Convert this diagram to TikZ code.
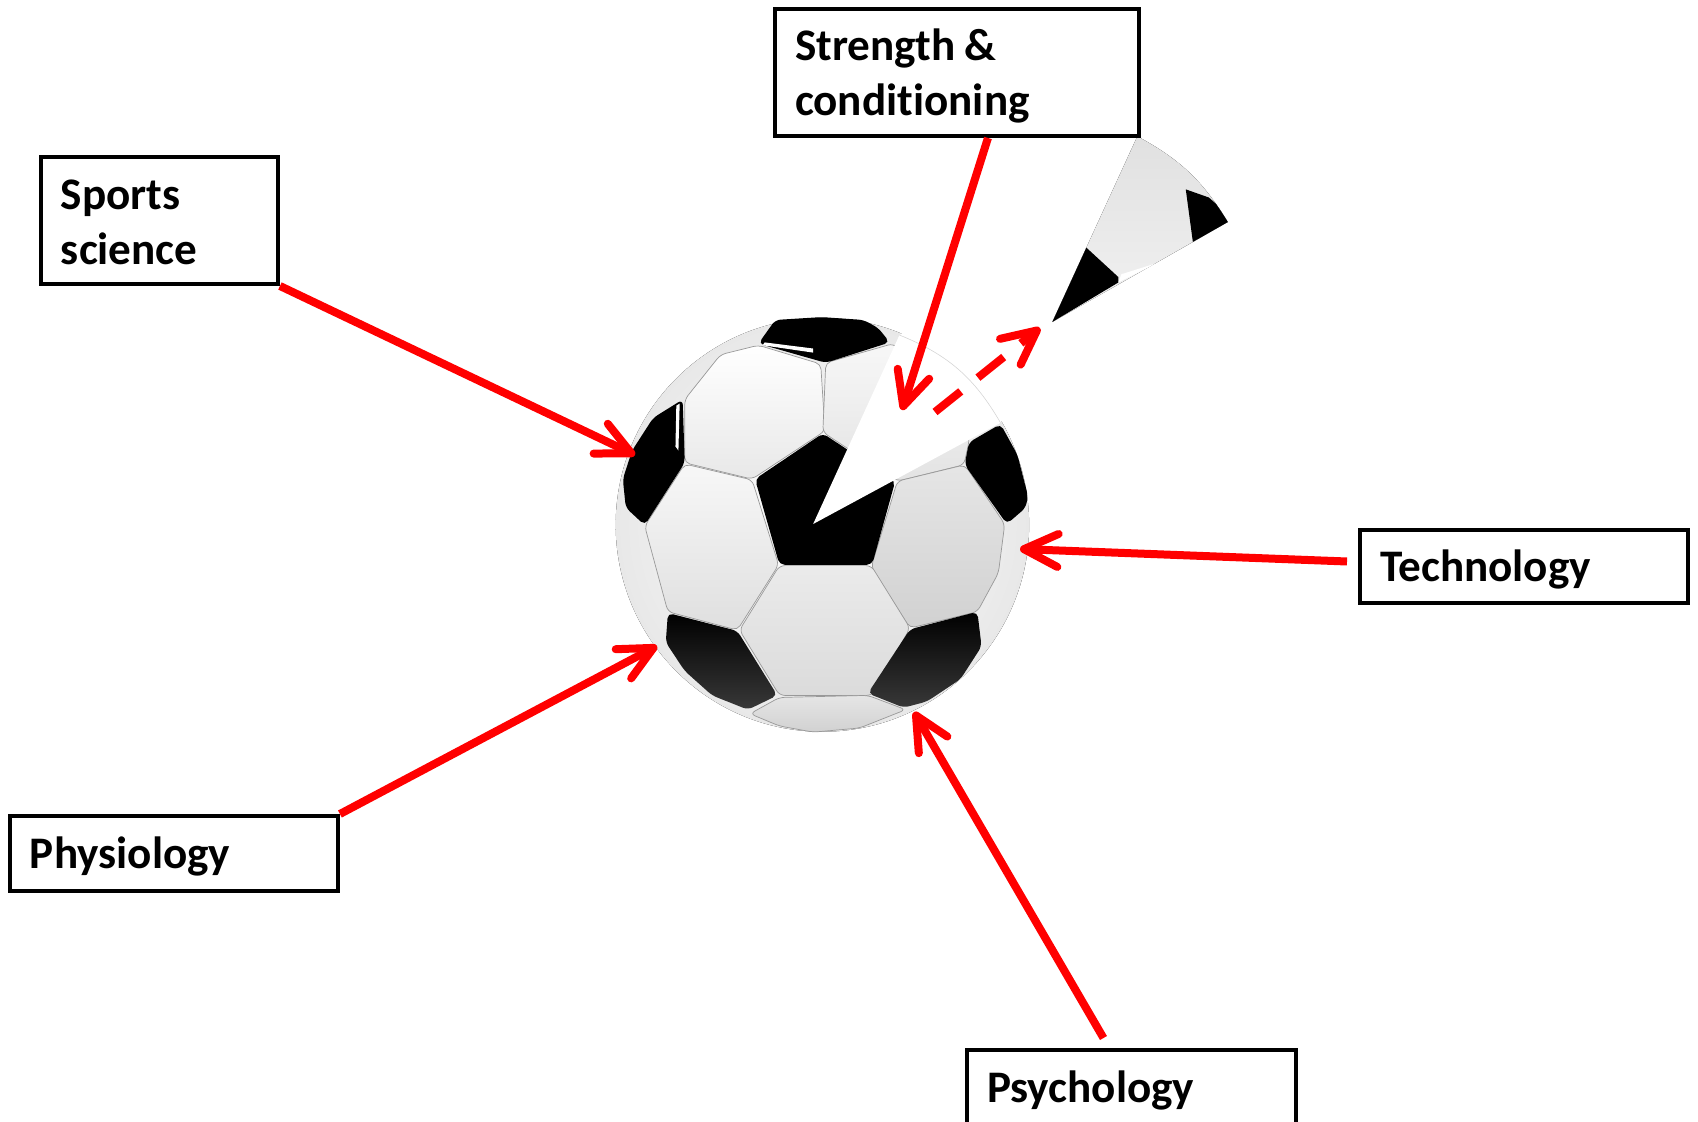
\documentclass[tikz,border=0pt]{standalone}
\usepackage{fontspec}
\setmainfont{Carlito}[Ligatures=NoCommon]
\usetikzlibrary{arrows.meta}
\tikzset{topic box/.style={rectangle,draw,fill=white,line width=.08cm,anchor=north west,align=left,
		inner xsep=.4cm,inner ysep=0pt,font=\fontsize{25.7}{31}\selectfont\bfseries},
	one line/.style={topic box,text depth=.05cm},
	link/.style={draw=red,line width=.16cm,-{Straight Barb[length=.68cm,width=.66cm,line width=.16cm,round]}},
	black panel/.style={fill=black,rounded corners=3},
	low panel/.style={rounded corners=3,top color=black,bottom color=black!78},
	white panel/.style={draw=gray!80,line width=.4pt,top color=white,bottom color=gray!18,rounded corners=3},
	grey panel/.style={draw=gray!80,line width=.4pt,top color=gray!20,bottom color=gray!36,rounded corners=3},
}

\begin{document}
\begin{tikzpicture}[x=.02cm,y=-.02cm]
	\path[use as bounding box,clip] (0,0) rectangle (1698,1122);
	
	% ball, coordinates of the enlarged crop
	\begin{scope}[shift={(590,120)},x=.008418cm,y=-.00816cm]
		\fill[inner color=white,outer color=gray!18] (552,992) ellipse (491 and 507);
		\path[white panel] (225,685) -- (310,575) -- (400,552) -- (548,598) -- (558,762) -- (385,880) -- (225,840) -- cycle;
		\path[white panel,top color=gray!6,bottom color=gray!22] (560,595) -- (720,548) -- (900,700) -- (900,790) -- (888,845) -- (730,885) -- (553,765) -- cycle;
		\path[grey panel,top color=gray!6,bottom color=gray!25] (225,843) -- (385,882) -- (448,1090) -- (350,1250) -- (185,1205) -- (130,995) -- cycle;
		\path[grey panel] (730,885) -- (890,845) -- (985,990) -- (970,1110) -- (920,1205) -- (760,1245) -- (668,1095) -- cycle;
		\path[grey panel,top color=gray!16,bottom color=gray!28] (450,1092) -- (668,1092) -- (760,1245) -- (670,1410) -- (450,1410) -- (355,1250) -- cycle;
		\path[grey panel] (380,1455) -- (450,1415) -- (660,1410) -- (750,1445) -- (640,1490) -- (530,1500) -- (450,1485) -- cycle;
		\path[black panel] (400,548) -- (440,490) -- (550,483) -- (650,490) -- (685,510) -- (712,545) -- (560,595) -- cycle;
		\path[black panel] (220,685) -- (150,730) -- (100,810) -- (78,880) -- (85,950) -- (130,993) -- (225,840) -- cycle;
		\path[black panel] (392,880) -- (553,768) -- (725,885) -- (670,1090) -- (450,1090) -- cycle;
		\path[black panel] (900,790) -- (975,745) -- (1015,820) -- (1040,920) -- (1035,950) -- (990,990) -- (890,845) -- cycle;
		\path[low panel] (185,1208) -- (350,1252) -- (445,1410) -- (375,1445) -- (290,1410) -- (225,1350) -- (180,1280) -- cycle;
		\path[low panel] (760,1248) -- (920,1205) -- (930,1290) -- (880,1370) -- (800,1425) -- (745,1440) -- (660,1405) -- cycle;
		\fill[white] (205,700) -- (213,695) -- (210,810) -- (203,800) -- cycle;
		\fill[white] (415,545) -- (530,560) -- (530,570) -- (410,552) -- cycle;
		
		% wedge taken out of the ball
		\fill[white] (530,990) -- (735,527) -- (800,480) -- (1040,640) -- (975,742) -- cycle;
		\draw[gray!35,line width=.3pt] (735,527) to[bend left=19] (975,742);
		
		% wedge moved away
		\fill[top color=gray!24,bottom color=gray!10] (1098,495) -- (1300,40) to[bend left=15] (1515,250) -- cycle;
		\begin{scope}
			\clip (1098,495) -- (1300,40) to[bend left=15] (1515,250) -- cycle;
			\fill[black] (1098,495) -- (1178,312) -- (1255,385) -- (1255,398) -- cycle;
			\fill[white] (1255,398) -- (1262,378) -- (1348,350) -- cycle;
			\fill[black] (1415,170) -- (1432,300) -- (1530,245) -- (1470,190) -- cycle;
		\end{scope}
	\end{scope}
	
	% topics
	\node[topic box,text width=6.48cm,minimum height=2.54cm,text height=.77cm] (strength) at (773,7) {Strength\hspace{.19em}\&\\conditioning};
	\node[topic box,text width=3.94cm,minimum height=2.54cm,text height=.66cm] (sports) at (39,155) {Sports\\science};
	\node[one line,text width=5.76cm,minimum height=1.46cm] (technology) at (1358,528) {Technology};
	\node[one line,text width=5.76cm,minimum height=1.5cm] (physiology) at (8,814) {Physiology};
	\node[one line,text width=5.78cm,minimum height=1.5cm] (psychology) at (965,1048) {Psychology};
	
	\coordinate (tipsports) at (635,455);
	\coordinate (tipstrength) at (902,410);
	\coordinate (tiptechnology) at (1020,549);
	\coordinate (tipphysiology) at (657,646);
	\coordinate (tippsychology) at (914,712);
	\coordinate (movestart) at (935,412);
	\coordinate (moveend) at (1040,328);
	
	\path[every edge/.style={link}] (sports.south east) edge (tipsports)
	([xshift=.62cm]strength.south) edge (tipstrength)
	([xshift=-.22cm,yshift=.1cm]technology.west) edge (tiptechnology)
	(physiology.north east) edge (tipphysiology)
	([xshift=-.56cm,yshift=.2cm]psychology.north) edge (tippsychology);
	\path[every edge/.style={link,dash pattern=on .66cm off .44cm}] (movestart) edge (moveend);
\end{tikzpicture}
\end{document}
